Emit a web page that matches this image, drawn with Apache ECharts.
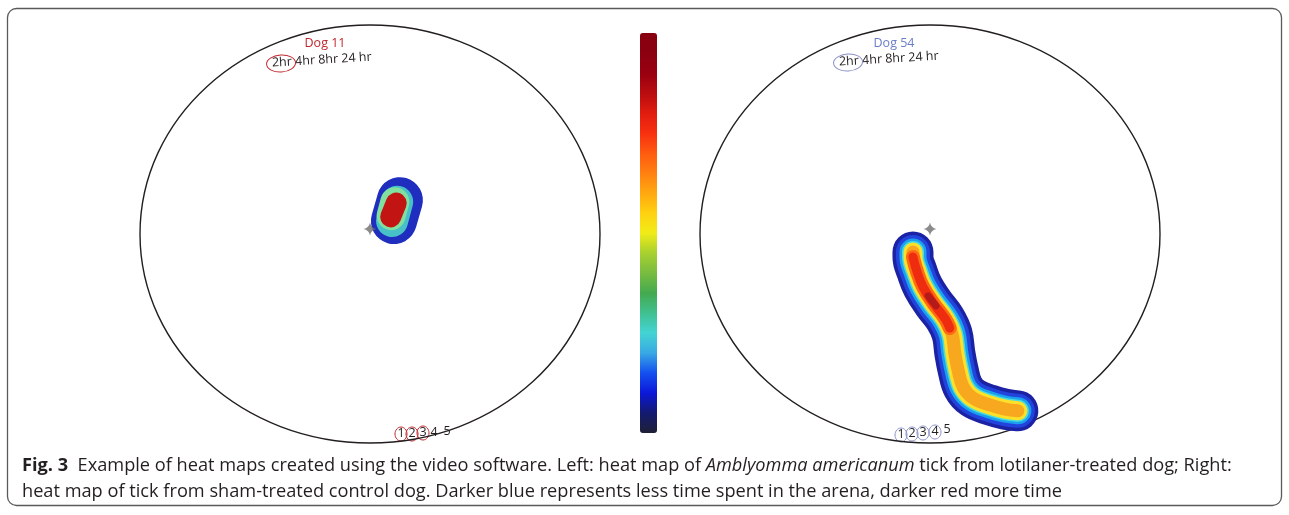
<!DOCTYPE html>
<html>
<head>
<meta charset="utf-8">
<script src="https://cdn.jsdelivr.net/npm/echarts@6/dist/echarts.min.js"></script>
<style>
  html, body { margin: 0; padding: 0; background: #fff; }
  #main { width: 1289px; height: 515px; }
</style>
</head>
<body>
<div id="main"></div>
<script>
// arena units: 0..100 across, 0..100 top to bottom
const arena = [[50, 50, 100, 100]]
const startPoint = [[50, 48.8]]

// Dog 11 (lotilaner-treated), tick hardly moved
const trackLeft = [[56.5, 41.9], [55.2, 46.9]]
const greenLeft = [[55.4, 42.3], [54.6, 45.6]]
const ringLeft = [[55.9, 42.3], [54.8, 46.9]]
const hotLeft = [[55.7, 42.6], [54.5, 45.9]]

// Dog 54 (sham), tick walked down and to the right
const trackRight = [
  [46.3, 54.3], [46.3, 55.5], [47.2, 59.1], [48.5, 62.7], [50.7, 66.5], [53.3, 70.3],
  [54.8, 73.9], [55.4, 78.5], [56.1, 82.5], [57.2, 86.6], [59.3, 89.2],
  [63.0, 90.9], [66.3, 91.9], [69.1, 92.3],
]
const hotRight = [
  [46.3, 55.5], [47.2, 59.1], [48.5, 62.7], [50.7, 66.5], [53.3, 70.3], [54.3, 72.5],
]
const peakRight = [[49.6, 64.8], [51.3, 67.2]]

const timeLabels = ['2hr', '4hr', '8hr', '24 hr']
const checkNumbers = ['1', '2', '3', '4', '5']

// colour bar, bottom (least time) to top (most time)
const colorScale = [
  '#1e2035', '#141a70', '#0c18d8', '#1450f0', '#38a8e4', '#44d4d4', '#40c090',
  '#44aa50', '#78bc40', '#a8d030', '#f0ec18', '#ffd010', '#ffa810', '#ff8010',
  '#ff5a10', '#f83010', '#e01c10', '#b80c10', '#980010', '#8c0010', '#880010',
]

const chart = echarts.init(document.getElementById('main'))

function band(grid, data, width, color, z) {
  return {
    type: 'line',
    xAxisIndex: grid,
    yAxisIndex: grid,
    data: data,
    smooth: 0.4,
    symbol: 'none',
    clip: false,
    silent: true,
    z: z,
    lineStyle: { width: width, color: color, cap: 'round', join: 'round' },
  }
}

function arenaSeries(grid) {
  return {
    type: 'custom',
    xAxisIndex: grid,
    yAxisIndex: grid,
    data: arena,
    clip: false,
    silent: true,
    z: 1,
    renderItem(params, api) {
      const c = api.coord([api.value(0), api.value(1)])
      const s = api.size([api.value(2), api.value(3)])
      return {
        type: 'ellipse',
        shape: { cx: c[0], cy: c[1], rx: Math.abs(s[0]) / 2, ry: Math.abs(s[1]) / 2 },
        style: { fill: 'none', stroke: '#231f20', lineWidth: 1.4 },
      }
    },
  }
}

function startSeries(grid) {
  return {
    type: 'scatter',
    xAxisIndex: grid,
    yAxisIndex: grid,
    data: startPoint,
    symbol: 'path://M0,-10 Q1.6,-1.6 10,0 Q1.6,1.6 0,10 Q-1.6,1.6 -10,0 Q-1.6,-1.6 0,-10Z',
    symbolSize: 13,
    itemStyle: { color: '#6e6e6e' },
    silent: true,
    z: 20,
  }
}

const font = '"Open Sans", sans-serif'

function numberRow(xs, ys, circled, ringColor) {
  const els = []
  checkNumbers.forEach((n, i) => {
    els.push({
      type: 'text', x: xs[i], y: ys[i],
      style: { text: n, fontSize: 12.5, fontFamily: font, fill: '#231f20', align: 'center', verticalAlign: 'middle' },
    })
    if (i < circled) {
      els.push({
        type: 'ellipse', shape: { cx: xs[i], cy: ys[i] + 1, rx: 6, ry: 7 },
        style: { fill: 'none', stroke: ringColor, lineWidth: 1 },
      })
    }
  })
  return els
}

function hourRow(x, y, dogText, dogColor, dogX, ringColor) {
  return [
    {
      type: 'text', x: dogX, y: 43,
      style: { text: dogText, fontSize: 12.5, fontFamily: font, fill: dogColor, align: 'center', verticalAlign: 'middle' },
    },
    {
      type: 'group', x: x, y: y, rotation: 0.06,
      children: [
        {
          type: 'text', x: 0, y: 0,
          style: { text: timeLabels.join(' '), fontSize: 12.5, fontFamily: font, fill: '#231f20', verticalAlign: 'middle' },
        },
        {
          type: 'ellipse', shape: { cx: 9, cy: 1, rx: 14.5, ry: 8.5 },
          style: { fill: 'none', stroke: ringColor, lineWidth: 1 },
        },
      ],
    },
  ]
}

const capStyle = { fontSize: 18.2, fontFamily: font, fill: '#231f20' }

chart.setOption({
  animation: false,
  grid: [
    { left: 140, top: 25, width: 460, height: 418 },
    { left: 700, top: 25, width: 460, height: 418 },
  ],
  xAxis: [
    { type: 'value', gridIndex: 0, min: 0, max: 100, show: false },
    { type: 'value', gridIndex: 1, min: 0, max: 100, show: false },
  ],
  yAxis: [
    { type: 'value', gridIndex: 0, min: 0, max: 100, inverse: true, show: false },
    { type: 'value', gridIndex: 1, min: 0, max: 100, inverse: true, show: false },
  ],
  visualMap: {
    type: 'continuous',
    min: 0,
    max: 1,
    orient: 'vertical',
    left: 640,
    top: 33,
    padding: 0,
    itemWidth: 17,
    itemHeight: 400,
    text: ['', ''],
    calculable: false,
    hoverLink: false,
    seriesIndex: [],
    inRange: { color: colorScale },
  },
  series: [
    arenaSeries(0),
    arenaSeries(1),
    // left heat blob
    band(0, trackLeft, 46, '#1f2ebe', 2),
    band(0, ringLeft, 32, '#48c0c8', 3),
    band(0, greenLeft, 29, '#80e0a0', 4),
    band(0, hotLeft, 21, '#c31414', 5),
    // right heat trail
    band(1, trackRight, 41, '#1b22a3', 2),
    band(1, trackRight, 34, '#2244dd', 3),
    band(1, trackRight, 27, '#1aa0ee', 4),
    band(1, trackRight, 22, '#4adcdc', 5),
    band(1, trackRight, 19, '#fde02a', 6),
    band(1, trackRight, 13, '#f7a81e', 7),
    band(1, hotRight, 14, '#ff6a12', 8),
    band(1, hotRight, 9, '#ee2c10', 9),
    band(1, peakRight, 7, '#b41a1a', 10),
    startSeries(0),
    startSeries(1),
  ],
  graphic: [
    {
      type: 'rect',
      shape: { x: 7.5, y: 8.5, width: 1274, height: 497, r: 9 },
      style: { fill: 'none', stroke: '#5a5a5a', lineWidth: 1.3 },
      silent: true,
    },
    ...hourRow(272, 63, 'Dog 11', '#c0272d', 325, '#c0272d'),
    ...hourRow(839, 62, 'Dog 54', '#6a7ec6', 894, '#8a90c8'),
    ...numberRow([401, 412, 423, 434, 447], [433, 433, 432, 432, 431], 3, '#c0272d'),
    ...numberRow([901, 912, 923, 935, 947], [434, 433, 432, 431, 429], 4, '#8a90c8'),
    {
      type: 'text', x: 22, y: 466,
      style: {
        text: '{b|Fig. 3}  Example of heat maps created using the video software. Left: heat map of {i|Amblyomma americanum} tick from lotilaner-treated dog; Right:',
        verticalAlign: 'middle',
        ...capStyle,
        rich: {
          b: { ...capStyle, fontWeight: 'bold' },
          i: { ...capStyle, fontStyle: 'italic' },
        },
      },
    },
    {
      type: 'text', x: 22, y: 492,
      style: {
        text: 'heat map of tick from sham-treated control dog. Darker blue represents less time spent in the arena, darker red more time',
        verticalAlign: 'middle',
        ...capStyle,
      },
    },
  ],
})
</script>
</body>
</html>
